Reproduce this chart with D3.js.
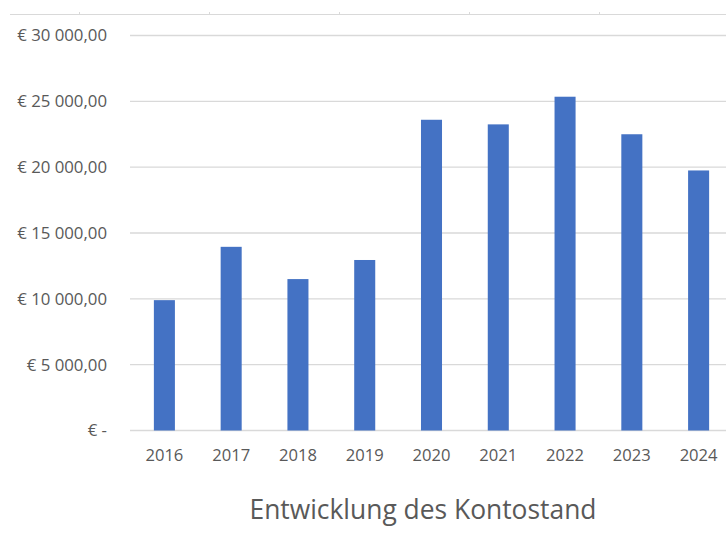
<!DOCTYPE html>
<html>
<head>
<meta charset="utf-8">
<script src="https://cdn.jsdelivr.net/npm/d3@7"></script>
<style>
    body { margin: 0; background: #fff; }
    text { font-family: "Open Sans", sans-serif; fill: #595959; }
</style>
</head>
<body>
<svg id="chart"></svg>
<script>
const years = ['2016', '2017', '2018', '2019', '2020', '2021', '2022', '2023', '2024'];
const balances = [9900, 13950, 11500, 12950, 23600, 23250, 25350, 22500, 19750];
const yTicks = [0, 5000, 10000, 15000, 20000, 25000, 30000];
const title = 'Entwicklung des Kontostand';

const width = 726;
const height = 540;
const plot = { left: 131, right: 732, top: 35.5, bottom: 430.5 };

const barBlue = '#4472C4';
const gridGrey = '#d9d9d9';

const svg = d3.select('#chart')
    .attr('width', width)
    .attr('height', height);

const xScale = d3.scaleBand()
    .domain(years)
    .range([plot.left, plot.right])
    .paddingInner(0.685)
    .paddingOuter(0.3425);

const yScale = d3.scaleLinear()
    .domain([0, 30000])
    .range([plot.bottom, plot.top]);

// euro format like the spreadsheet: "€ 30 000,00", zero as "€ -"
const fmtEuro = (v) => {
    if (v === 0) return '€ -';
    const s = d3.format(',.2f')(v);
    return '€ ' + s.replace(/,/g, ' ').replace('.', ',');
};

// cropped cell border at the very top
svg.append('line')
    .attr('x1', 10).attr('x2', width)
    .attr('y1', 14.5).attr('y2', 14.5)
    .attr('stroke', gridGrey)
    .attr('stroke-width', 1);
svg.append('g')
    .selectAll('line')
    .data(d3.range(79, width, 130))
    .enter()
    .append('line')
    .attr('x1', (d) => d + 0.5).attr('x2', (d) => d + 0.5)
    .attr('y1', 12).attr('y2', 15)
    .attr('stroke', gridGrey);

// gridlines
svg.append('g')
    .attr('class', 'grid')
    .selectAll('line')
    .data(yTicks)
    .enter()
    .append('line')
    .attr('x1', plot.left - 1)
    .attr('x2', width)
    .attr('y1', (d) => yScale(d))
    .attr('y2', (d) => yScale(d))
    .attr('stroke', gridGrey)
    .attr('stroke-width', 1.3);

// y labels
svg.append('g')
    .attr('class', 'y labels')
    .selectAll('text')
    .data(yTicks)
    .enter()
    .append('text')
    .attr('x', 107)
    .attr('y', (d) => yScale(d))
    .attr('dy', '0.35em')
    .style('text-anchor', 'end')
    .style('font-size', '16.8px')
    .text(fmtEuro);

// bars
svg.append('g')
    .attr('class', 'bars')
    .selectAll('rect')
    .data(balances)
    .enter()
    .append('rect')
    .attr('x', (d, i) => xScale(years[i]))
    .attr('width', xScale.bandwidth())
    .attr('y', (d) => yScale(d))
    .attr('height', (d) => yScale(0) - yScale(d))
    .attr('fill', barBlue);

// x labels
svg.append('g')
    .attr('class', 'x labels')
    .selectAll('text')
    .data(years)
    .enter()
    .append('text')
    .attr('x', (d) => xScale(d) + xScale.bandwidth() / 2)
    .attr('y', 461)
    .style('text-anchor', 'middle')
    .style('font-size', '16.6px')
    .text((d) => d);

svg.append('text')
    .attr('x', 423)
    .attr('y', 519)
    .style('text-anchor', 'middle')
    .style('font-size', '26.4px')
    .text(title);
</script>
</body>
</html>
